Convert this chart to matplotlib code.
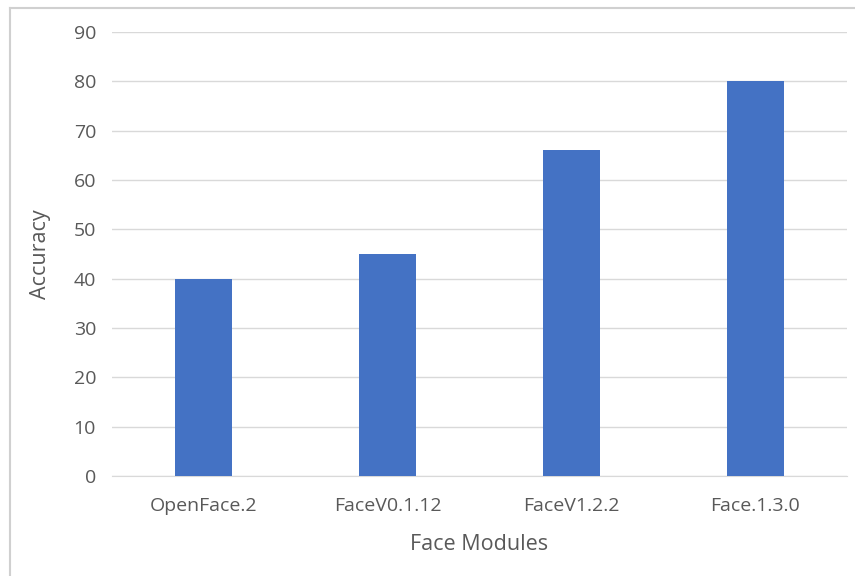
import matplotlib.pyplot as plt

modules = ["OpenFace.2", "FaceV0.1.12", "FaceV1.2.2", "Face.1.3.0"]
accuracy = [40, 45, 66, 80]

plt.rcParams['font.family'] = ['Open Sans', 'DejaVu Sans']

fig = plt.figure(figsize=(8.55, 5.76), dpi=100)
ax = fig.add_axes([112/855, 1-476/576, (847-112)/855, (476-32)/576])

ax.bar(range(len(modules)), accuracy, width=0.31, color="#4472C4", zorder=3)
ax.set_xlim(-0.5, len(modules) - 0.5)
ax.set_ylim(0, 90)
ax.set_yticks(range(0, 91, 10))
ax.set_xticks(range(len(modules)))
ax.set_xticklabels(modules)

ax.grid(axis='y', color="#D9D9D9", linewidth=1, zorder=0)
for s in ["top", "right", "left"]:
    ax.spines[s].set_visible(False)
ax.spines["bottom"].set_color("#D9D9D9")
ax.tick_params(length=0, colors="#595959", labelsize=14)
ax.tick_params(axis='y', pad=11.5)
ax.tick_params(axis='x', pad=15)

ax.set_xlabel("Face Modules", fontsize=15.5, color="#595959", labelpad=14)
ax.set_ylabel("Accuracy", fontsize=15.5, color="#595959", labelpad=16)

# chart frame (only top and left visible in the crop)
fig.add_artist(plt.Line2D([10/855, 10/855], [0, 1-8/576], color="#D0D0D0", lw=1.5))
fig.add_artist(plt.Line2D([10/855, 1], [1-8/576, 1-8/576], color="#D0D0D0", lw=1.5))

fig.savefig("out.png", dpi=100)
